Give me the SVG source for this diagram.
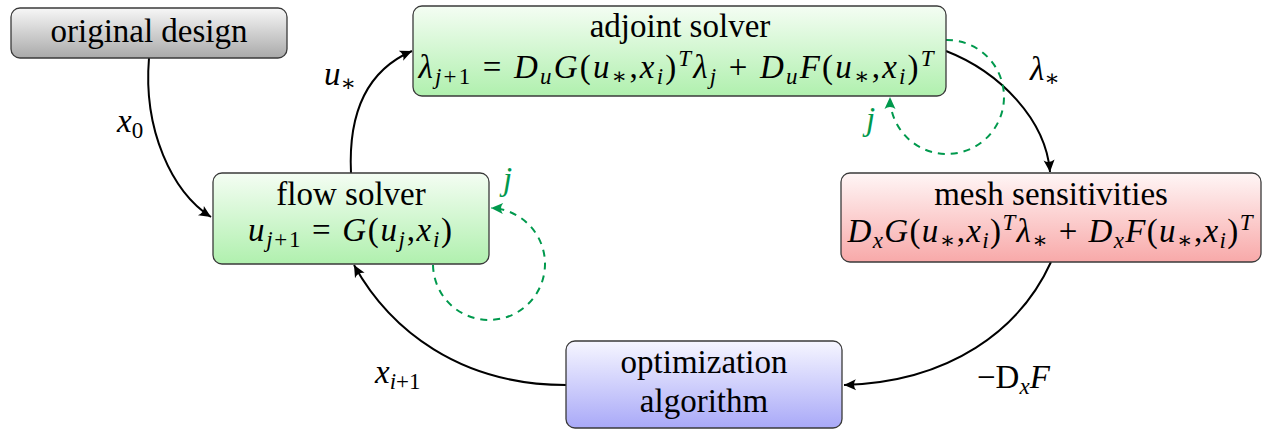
<svg xmlns="http://www.w3.org/2000/svg" width="1263" height="431" viewBox="0 0 1263 431">
<style>
.box{stroke:#3a3a3a;stroke-width:1.3}
.t{font-family:"Liberation Serif","DejaVu Serif",serif;font-size:33px;fill:#000}
.v{font-style:italic}
.s{font-size:23px}
.g{fill:#00994d}
.edge{fill:none;stroke:#000;stroke-width:2;marker-end:url(#ah)}
.loop{fill:none;stroke:#00994d;stroke-width:2;stroke-dasharray:7 6;marker-end:url(#ag)}
</style>
<defs>
<linearGradient id="gGray" x1="0" y1="0" x2="0" y2="1"><stop offset="0" stop-color="#f7f7f7"/><stop offset="1" stop-color="#a9a9a9"/></linearGradient>
<linearGradient id="gGreen" x1="0" y1="0" x2="0" y2="1"><stop offset="0" stop-color="#f4fdf3"/><stop offset="1" stop-color="#b0f0ae"/></linearGradient>
<linearGradient id="gRed" x1="0" y1="0" x2="0" y2="1"><stop offset="0" stop-color="#fff6f6"/><stop offset="1" stop-color="#f8a9a9"/></linearGradient>
<linearGradient id="gBlue" x1="0" y1="0" x2="0" y2="1"><stop offset="0" stop-color="#f6f6ff"/><stop offset="1" stop-color="#a9a9f8"/></linearGradient>
<marker id="ah" viewBox="-13 -7 14 14" refX="0" refY="0" markerWidth="14" markerHeight="14" orient="auto" markerUnits="userSpaceOnUse"><path d="M0,0 L-12,-5.5 Q-8,0 -12,5.5 Z" fill="#000"/></marker>
<marker id="ag" viewBox="-13 -7 14 14" refX="0" refY="0" markerWidth="14" markerHeight="14" orient="auto" markerUnits="userSpaceOnUse"><path d="M0,0 L-12,-5.5 Q-8,0 -12,5.5 Z" fill="#00994d"/></marker>
</defs>

<g id="connectors">
<path class="edge" d="M149,58 C143,130 172,192 211,217"/>
<path class="edge" d="M351,173 C348,110 368,70 412,51"/>
<path class="edge" d="M946,51 C1000,72 1046,120 1050,172"/>
<path class="edge" d="M1051,262 C1020,330 950,382 844,385"/>
<path class="edge" d="M566,385 C460,385 390,330 354,265"/>
<path class="loop" d="M433,265 A56,56 0 1 0 491,208"/>
<path class="loop" d="M946,40 A57,57 0 1 1 890,97"/>
<text class="t" x="117" y="132"><tspan class="v">x</tspan><tspan class="s" dy="6">0</tspan></text>
<text class="t" x="324" y="85"><tspan class="v">u</tspan><tspan class="s" dy="6">∗</tspan></text>
<text class="t" x="1030" y="80"><tspan class="v">λ</tspan><tspan class="s" dy="6">∗</tspan></text>
<text class="t" x="977" y="388">−D<tspan class="s v" dy="6">x</tspan><tspan class="v" dy="-6">F</tspan></text>
<text class="t" x="375" y="383"><tspan class="v">x</tspan><tspan class="s v" dy="6">i</tspan><tspan class="s">+1</tspan></text>
<text class="t g v" x="503" y="190">j</text>
<text class="t g v" x="866" y="130">j</text>
</g>

<g id="original">
<rect class="box" x="11" y="8" width="276" height="50" rx="9" fill="url(#gGray)"/>
<text class="t" x="149" y="42" text-anchor="middle">original design</text>
</g>

<g id="adjoint">
<rect class="box" x="413" y="6" width="533" height="90" rx="9" fill="url(#gGreen)"/>
<text class="t" x="680" y="37" text-anchor="middle">adjoint solver</text>
<text class="t" x="676" y="78" text-anchor="middle" textLength="515" lengthAdjust="spacing"><tspan class="v">λ</tspan><tspan class="s v" dy="6">j</tspan><tspan class="s">+1</tspan><tspan dy="-6"> = </tspan><tspan class="v">D</tspan><tspan class="s v" dy="6">u</tspan><tspan class="v" dy="-6">G</tspan><tspan>(</tspan><tspan class="v">u</tspan><tspan class="s" dy="6">∗</tspan><tspan dy="-6">,</tspan><tspan class="v">x</tspan><tspan class="s v" dy="6">i</tspan><tspan dy="-6">)</tspan><tspan class="s v" dy="-12">T</tspan><tspan class="v" dy="12">λ</tspan><tspan class="s v" dy="6">j</tspan><tspan dy="-6"> + </tspan><tspan class="v">D</tspan><tspan class="s v" dy="6">u</tspan><tspan class="v" dy="-6">F</tspan><tspan>(</tspan><tspan class="v">u</tspan><tspan class="s" dy="6">∗</tspan><tspan dy="-6">,</tspan><tspan class="v">x</tspan><tspan class="s v" dy="6">i</tspan><tspan dy="-6">)</tspan><tspan class="s v" dy="-12">T</tspan></text>
</g>

<g id="flow">
<rect class="box" x="213" y="173" width="276" height="91" rx="9" fill="url(#gGreen)"/>
<text class="t" x="351" y="205" text-anchor="middle">flow solver</text>
<text class="t" x="350" y="241" text-anchor="middle" textLength="204" lengthAdjust="spacing"><tspan class="v">u</tspan><tspan class="s v" dy="6">j</tspan><tspan class="s">+1</tspan><tspan dy="-6"> = </tspan><tspan class="v">G</tspan><tspan>(</tspan><tspan class="v">u</tspan><tspan class="s v" dy="6">j</tspan><tspan dy="-6">,</tspan><tspan class="v">x</tspan><tspan class="s v" dy="6">i</tspan><tspan dy="-6">)</tspan></text>
</g>

<g id="mesh">
<rect class="box" x="841" y="173" width="420" height="89" rx="9" fill="url(#gRed)"/>
<text class="t" x="1051" y="205" text-anchor="middle">mesh sensitivities</text>
<text class="t" x="1050" y="242" text-anchor="middle" textLength="405" lengthAdjust="spacing"><tspan class="v">D</tspan><tspan class="s v" dy="6">x</tspan><tspan class="v" dy="-6">G</tspan><tspan>(</tspan><tspan class="v">u</tspan><tspan class="s" dy="6">∗</tspan><tspan dy="-6">,</tspan><tspan class="v">x</tspan><tspan class="s v" dy="6">i</tspan><tspan dy="-6">)</tspan><tspan class="s v" dy="-12">T</tspan><tspan class="v" dy="12">λ</tspan><tspan class="s" dy="6">∗</tspan><tspan dy="-6"> + </tspan><tspan class="v">D</tspan><tspan class="s v" dy="6">x</tspan><tspan class="v" dy="-6">F</tspan><tspan>(</tspan><tspan class="v">u</tspan><tspan class="s" dy="6">∗</tspan><tspan dy="-6">,</tspan><tspan class="v">x</tspan><tspan class="s v" dy="6">i</tspan><tspan dy="-6">)</tspan><tspan class="s v" dy="-12">T</tspan></text>
</g>

<g id="optimization">
<rect class="box" x="566" y="341" width="276" height="87" rx="9" fill="url(#gBlue)"/>
<text class="t" x="704" y="373" text-anchor="middle">optimization</text>
<text class="t" x="704" y="412" text-anchor="middle">algorithm</text>
</g>
</svg>
